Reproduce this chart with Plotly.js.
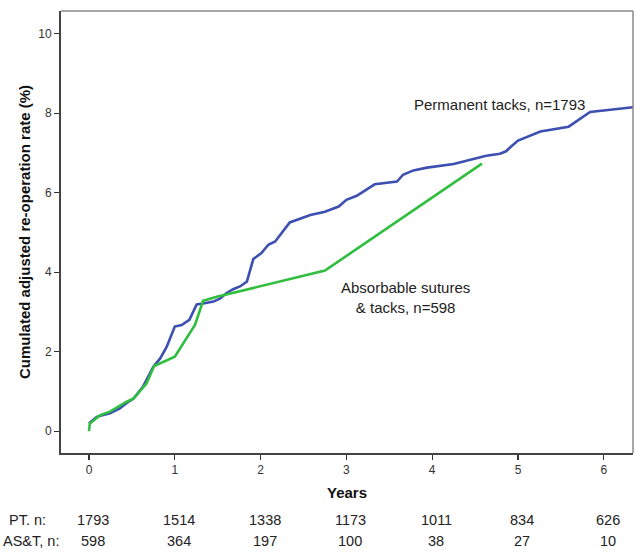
<!DOCTYPE html>
<html>
<head>
<meta charset="utf-8">
<script src="https://cdn.plot.ly/plotly-3.0.1.min.js"></script>
<style>html,body{margin:0;padding:0;background:#fff;}#chart{width:635px;height:555px;}</style>
</head>
<body>
<div id="chart"></div>
<script>
// Permanent tacks (PT), n=1793
const ptYears = [0, 0.09, 0.245, 0.36, 0.44, 0.52, 0.63, 0.75, 0.83, 0.905, 1.0, 1.08, 1.17, 1.255, 1.33, 1.45, 1.53, 1.6, 1.68, 1.76, 1.84, 1.915, 2.01, 2.09, 2.17, 2.34, 2.58, 2.75, 2.91, 3.0, 3.12, 3.33, 3.59, 3.66, 3.78, 3.94, 4.25, 4.44, 4.63, 4.79, 4.86, 4.92, 5.0, 5.26, 5.59, 5.84, 6.34];
const ptRate  = [0.19, 0.36, 0.45, 0.57, 0.71, 0.82, 1.12, 1.62, 1.83, 2.12, 2.63, 2.67, 2.8, 3.19, 3.21, 3.26, 3.34, 3.47, 3.57, 3.64, 3.76, 4.33, 4.48, 4.69, 4.77, 5.25, 5.44, 5.52, 5.65, 5.82, 5.92, 6.21, 6.28, 6.45, 6.56, 6.63, 6.72, 6.83, 6.93, 6.98, 7.04, 7.16, 7.31, 7.54, 7.66, 8.03, 8.15];
// Absorbable sutures & tacks (AS&T), n=598
const astYears = [0, 0.01, 0.13, 0.245, 0.44, 0.52, 0.67, 0.76, 1.0, 1.235, 1.33, 1.49, 2.75, 4.58];
const astRate  = [0.0, 0.19, 0.4, 0.49, 0.74, 0.82, 1.2, 1.64, 1.87, 2.67, 3.28, 3.38, 4.04, 6.73];

// Numbers at risk table
const tableYears = [0, 1, 2, 3, 4, 5, 6];
const ptAtRisk  = [1793, 1514, 1338, 1173, 1011, 834, 626];
const astAtRisk = [598, 364, 197, 100, 38, 27, 10];
const rowLabels = ["PT. n:", "AS&T, n:"];
const xTicks = [0, 1, 2, 3, 4, 5, 6];
const yTicks = [0, 2, 4, 6, 8, 10];

const FONT = "Liberation Sans, Arial, sans-serif";
const traces = [
  {x: ptYears, y: ptRate, type: "scatter", mode: "lines", line: {color: "#3D4FB1", width: 2.6}, hoverinfo: "skip"},
  {x: astYears, y: astRate, type: "scatter", mode: "lines", line: {color: "#2FBE3E", width: 2.6}, hoverinfo: "skip"}
];

const annotations = [
  {x: 4.78, y: 8.21, xref: "x", yref: "y", text: "Permanent tacks, n=1793", showarrow: false, font: {family: FONT, size: 15, color: "#222"}},
  {x: 3.69, y: 3.36, xref: "x", yref: "y", text: "Absorbable sutures<br>& tacks, n=598", showarrow: false, align: "center", font: {family: FONT, size: 15, color: "#222"}}
];
// row positions in paper coords (below axis)
const rowY = [-0.152, -0.200];
const rowLabelX = [27, 31];
[ptAtRisk, astAtRisk].forEach((row, r) => {
  annotations.push({xref: "paper", yref: "paper", x: (rowLabelX[r] - 61) / 572, y: rowY[r], text: rowLabels[r], showarrow: false, xanchor: "center", yanchor: "middle", font: {family: FONT, size: 14.5, color: "#222"}});
  row.forEach((v, i) => {
    annotations.push({xref: "x", yref: "paper", x: tableYears[i], y: rowY[r], xshift: 4, text: String(v), showarrow: false, xanchor: "center", yanchor: "middle", font: {family: FONT, size: 14.5, color: "#222"}});
  });
});

const layout = {
  width: 635, height: 555,
  margin: {l: 61, r: 2, t: 11, b: 102},
  paper_bgcolor: "#fff", plot_bgcolor: "#fff",
  showlegend: false,
  font: {family: FONT, color: "#333"},
  xaxis: {
    range: [-0.326, 6.34], tickvals: xTicks, ticks: "outside", ticklen: 5, tickwidth: 1.2, tickcolor: "#333",
    showgrid: false, zeroline: false, showline: true, linecolor: "#444", linewidth: 2,
    tickfont: {family: FONT, size: 12, color: "#333"},
    title: {text: "Years", font: {family: FONT, size: 15, color: "#111", weight: "bold"}, standoff: 11}
  },
  yaxis: {
    range: [-0.55, 10.57], tickvals: yTicks, ticks: "outside", ticklen: 5, tickwidth: 1.2, tickcolor: "#333",
    showgrid: false, zeroline: false, showline: true, linecolor: "#444", linewidth: 2,
    tickfont: {family: FONT, size: 12, color: "#333"},
    title: {text: "Cumulated adjusted re-operation rate (%)", font: {family: FONT, size: 15, color: "#111", weight: "bold"}, standoff: 4}
  },
  shapes: [
    {type: "line", xref: "paper", yref: "paper", x0: 0, x1: 1, y0: 1, y1: 1, line: {color: "#8a8a8a", width: 1.5}},
    {type: "line", xref: "paper", yref: "paper", x0: 1, x1: 1, y0: 0, y1: 1, line: {color: "#8a8a8a", width: 1.5}}
  ],
  annotations: annotations
};

Plotly.newPlot("chart", traces, layout, {displayModeBar: false, staticPlot: true});
</script>
</body>
</html>
